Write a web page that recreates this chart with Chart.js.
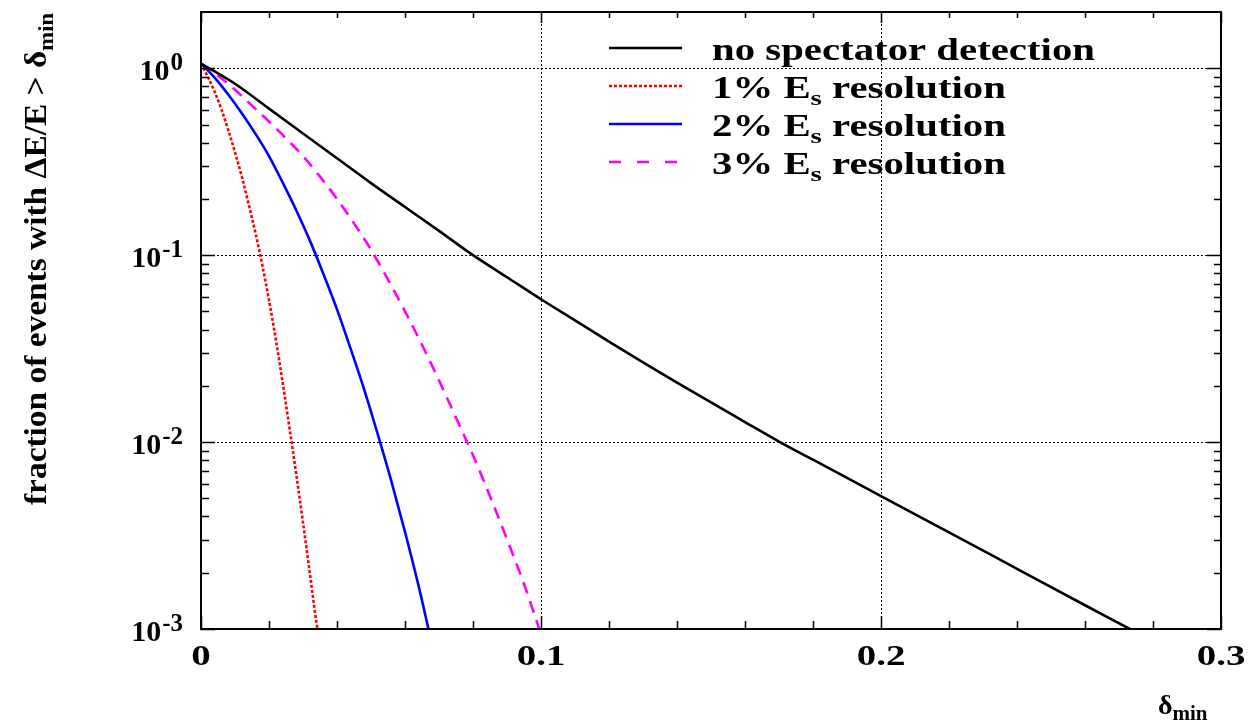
<!DOCTYPE html>
<html><head><meta charset="utf-8">
<script src="https://cdn.jsdelivr.net/npm/chart.js@4/dist/chart.umd.min.js"></script>
<style>html,body{margin:0;padding:0;background:#fff;}#wrap{width:1255px;height:724px;}</style>
</head><body><div id="wrap"><canvas id="c" width="1255" height="724"></canvas></div>
<script>
// ---- data ----
const blackX = [0, 0.01, 0.02, 0.03, 0.04, 0.05, 0.06, 0.07, 0.08, 0.09, 0.10, 0.11, 0.12, 0.13, 0.14, 0.16, 0.17, 0.18, 0.20, 0.22, 0.24, 0.26, 0.2732];
const blackY = [1.059, 0.826, 0.608, 0.448, 0.330, 0.243, 0.181, 0.135, 0.100, 0.0762, 0.0581, 0.0448, 0.0345, 0.0267, 0.0208, 0.0128, 0.01007, 0.00805, 0.00514, 0.00329, 0.00210, 0.00134, 0.00100];
const redX = [0, 0.002, 0.004, 0.006, 0.008, 0.010, 0.012, 0.014, 0.016, 0.018, 0.020, 0.022, 0.024, 0.026, 0.028, 0.030, 0.032, 0.034, 0.0343];
const redY = [1.059, 0.902, 0.750, 0.603, 0.468, 0.355, 0.263, 0.188, 0.132, 0.0891, 0.0575, 0.0355, 0.0209, 0.0120, 0.00676, 0.00372, 0.00200, 0.00107, 0.00100];
const blueX = [0, 0.004, 0.008, 0.012, 0.016, 0.020, 0.024, 0.028, 0.032, 0.036, 0.040, 0.044, 0.048, 0.052, 0.056, 0.060, 0.064, 0.0669];
const blueY = [1.059, 0.891, 0.724, 0.575, 0.447, 0.339, 0.245, 0.174, 0.120, 0.0794, 0.0513, 0.0316, 0.0191, 0.0110, 0.00617, 0.00331, 0.00170, 0.00100];
const magentaX = [0, 0.005, 0.010, 0.015, 0.020, 0.025, 0.030, 0.035, 0.040, 0.045, 0.050, 0.055, 0.060, 0.065, 0.070, 0.075, 0.080, 0.085, 0.090, 0.095, 0.0995];
const magentaY = [1.059, 0.912, 0.767, 0.631, 0.519, 0.422, 0.339, 0.263, 0.200, 0.148, 0.107, 0.0741, 0.0501, 0.0331, 0.0214, 0.0135, 0.00851, 0.00513, 0.00302, 0.00174, 0.00100];

const seriesLabels = ["no spectator detection", "1% E_s resolution", "2% E_s resolution", "3% E_s resolution"];

const xMajorTicks = [0, 0.1, 0.2, 0.3];
const xTickLabels = ["0", "0.1", "0.2", "0.3"];
const xMinorTicks = [0.02, 0.04, 0.06, 0.08, 0.12, 0.14, 0.16, 0.18, 0.22, 0.24, 0.26, 0.28];
const yMajorTicks = [1, 0.1, 0.01, 0.001];
const yTickExponents = ["0", "-1", "-2", "-3"];
const yMinorMultipliers = [2, 3, 4, 5, 6, 7, 8, 9];
const xGridValues = [0.1, 0.2];
const yGridValues = [1, 0.1, 0.01];

const yTitleMain = "fraction of events with \u0394E/E > \u03b4";
const yTitleSub = "min";
const xTitleMain = "\u03b4";
const xTitleSub = "min";

// ---- styles ----
const styles = [
  {color: '#000000', width: 2.6, dash: [], legendDash: []},
  {color: '#ff0000', width: 2.6, dash: [3, 2], legendDash: [3, 2]},
  {color: '#0000ff', width: 2.6, dash: [], legendDash: []},
  {color: '#ff00ff', width: 2.6, dash: [12, 8], legendDash: [12, 16]}
];
const seriesX = [blackX, redX, blueX, magentaX];
const seriesY = [blackY, redY, blueY, magentaY];

const datasets = seriesX.map((xs, i) => ({
  label: seriesLabels[i],
  data: xs.map((x, j) => ({x: x, y: seriesY[i][j]})),
  borderColor: styles[i].color,
  borderWidth: styles[i].width,
  borderDash: styles[i].dash,
  pointRadius: 0,
  fill: false,
  cubicInterpolationMode: 'monotone'
}));

const SERIF = '"Liberation Serif", "Times New Roman", serif';

function drawSubText(ctx, x, y, parts, mainFont, subFont, subDrop) {
  let cx = x;
  const re = /_(\w)/g;
  let last = 0, m;
  const segs = [];
  while ((m = re.exec(parts)) !== null) {
    segs.push({t: parts.slice(last, m.index), sub: false});
    segs.push({t: m[1], sub: true});
    last = m.index + m[0].length;
  }
  segs.push({t: parts.slice(last), sub: false});
  segs.forEach(s => {
    ctx.font = s.sub ? subFont : mainFont;
    ctx.fillText(s.t, cx, y + (s.sub ? subDrop : 0));
    cx += ctx.measureText(s.t).width;
  });
  return cx - x;
}

const rootStyle = {
  id: 'rootStyle',
  beforeDatasetsDraw(chart) {
    const {ctx, chartArea: a, scales: {x, y}} = chart;
    ctx.save();
    ctx.strokeStyle = '#000';
    ctx.lineWidth = 1;
    ctx.setLineDash([2, 2]);
    ctx.beginPath();
    xGridValues.forEach(v => {
      const px = Math.round(x.getPixelForValue(v)) + 0.5;
      ctx.moveTo(px, a.top); ctx.lineTo(px, a.bottom);
    });
    yGridValues.forEach(v => {
      const py = Math.round(y.getPixelForValue(v)) + 0.5;
      ctx.moveTo(a.left, py); ctx.lineTo(a.right, py);
    });
    ctx.stroke();
    ctx.restore();
  },
  afterDatasetsDraw(chart) {
    const {ctx, chartArea: a, scales: {x, y}} = chart;
    ctx.save();
    ctx.strokeStyle = '#000';
    ctx.lineWidth = 1.5;
    ctx.setLineDash([]);
    ctx.beginPath();
    const xt = (v, lb, lt) => {
      const px = Math.round(x.getPixelForValue(v)) + 0.5;
      ctx.moveTo(px, a.bottom); ctx.lineTo(px, a.bottom - lb);
      ctx.moveTo(px, a.top); ctx.lineTo(px, a.top + lt);
    };
    xMajorTicks.forEach(v => xt(v, 13, 11));
    xMinorTicks.forEach(v => xt(v, 8, 6));
    const yt = (v, ll, lr) => {
      const py = Math.round(y.getPixelForValue(v)) + 0.5;
      ctx.moveTo(a.left, py); ctx.lineTo(a.left + ll, py);
      ctx.moveTo(a.right, py); ctx.lineTo(a.right - lr, py);
    };
    yMajorTicks.forEach(v => yt(v, 14, 14));
    yMajorTicks.forEach(d => yMinorMultipliers.forEach(mm => {
      const v = d * mm;
      if (v < y.max) yt(v, 8, 7);
    }));
    ctx.stroke();
    ctx.lineWidth = 2;
    ctx.strokeRect(a.left, a.top, a.right - a.left, a.bottom - a.top);

    ctx.fillStyle = '#000';
    ctx.textAlign = 'left';
    ctx.textBaseline = 'alphabetic';
    yMajorTicks.forEach((v, i) => {
      const py = y.getPixelForValue(v);
      ctx.font = 'bold 25px ' + SERIF;
      const sw = ctx.measureText(yTickExponents[i]).width;
      ctx.font = 'bold 30px ' + SERIF;
      const mw = ctx.measureText('10').width;
      const right = 183;
      ctx.fillText('10', right - sw - mw - 1, py + 12);
      ctx.font = 'bold 25px ' + SERIF;
      ctx.fillText(yTickExponents[i], right - sw, py + 2);
    });
    const xs = 1.3;
    xMajorTicks.forEach((v, i) => {
      const px = x.getPixelForValue(v);
      ctx.font = 'bold 30px ' + SERIF;
      const w = ctx.measureText(xTickLabels[i]).width * xs;
      ctx.save();
      ctx.translate(px - w / 2, 665);
      ctx.scale(xs, 1);
      ctx.fillText(xTickLabels[i], 0, 0);
      ctx.restore();
    });

    const legTop = 48, legStep = 38;
    ctx.font = 'bold 31px ' + SERIF;
    const sx = 383 / ctx.measureText(seriesLabels[0]).width;
    seriesLabels.forEach((lab, i) => {
      const cy = legTop + i * legStep;
      const st = styles[i];
      ctx.save();
      ctx.strokeStyle = st.color;
      ctx.lineWidth = st.width;
      ctx.setLineDash(st.legendDash);
      ctx.beginPath();
      ctx.moveTo(609, cy); ctx.lineTo(682, cy);
      ctx.stroke();
      ctx.restore();
      ctx.save();
      ctx.translate(712, cy + 12);
      ctx.scale(sx, 1);
      drawSubText(ctx, 0, 0, lab, 'bold 31px ' + SERIF, 'bold 22px ' + SERIF, 7);
      ctx.restore();
    });

    ctx.save();
    ctx.font = 'bold 31px ' + SERIF;
    const wm = ctx.measureText(yTitleMain).width;
    ctx.font = 'bold 21px ' + SERIF;
    const ws = ctx.measureText(yTitleSub).width;
    const k = 492 / (wm + ws);
    ctx.translate(46, 505);
    ctx.rotate(-Math.PI / 2);
    ctx.scale(k, 1);
    ctx.font = 'bold 31px ' + SERIF;
    ctx.fillText(yTitleMain, 0, 0);
    ctx.font = 'bold 21px ' + SERIF;
    ctx.fillText(yTitleSub, wm, 7);
    ctx.restore();

    ctx.font = 'bold 28px ' + SERIF;
    ctx.fillText(xTitleMain, 1158, 714);
    const dw = ctx.measureText(xTitleMain).width;
    ctx.font = 'bold 21px ' + SERIF;
    ctx.fillText(xTitleSub, 1158 + dw, 720);
    ctx.restore();
  }
};

new Chart(document.getElementById('c'), {
  type: 'line',
  data: {datasets: datasets},
  options: {
    responsive: false,
    devicePixelRatio: 1,
    animation: false,
    layout: {padding: {top: 12, right: 34, left: 0, bottom: 0}},
    plugins: {legend: {display: false}, tooltip: {enabled: false}, title: {display: false}},
    scales: {
      x: {
        type: 'linear', min: 0, max: 0.3,
        ticks: {display: false}, grid: {display: false}, border: {display: false},
        afterFit(s) { s.height = 95; }
      },
      y: {
        type: 'logarithmic', min: 0.001, max: 2,
        ticks: {display: false}, grid: {display: false}, border: {display: false},
        afterFit(s) { s.width = 201; }
      }
    }
  },
  plugins: [rootStyle]
});
</script>
</body></html>
